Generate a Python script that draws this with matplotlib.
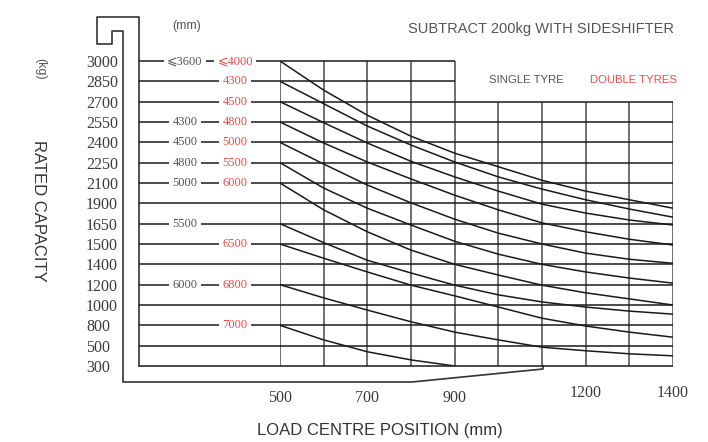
import numpy as np
import matplotlib
matplotlib.use('Agg')
import matplotlib.pyplot as plt

# rows of the chart (kg), top to bottom
caps = [3000, 2850, 2700, 2550, 2400, 2250, 2100, 1900, 1650, 1500, 1400, 1200, 1000, 800, 500, 300]
load_centre = [500, 600, 700, 800, 900, 1000, 1100, 1200, 1300, 1400]
xtick_vals = [500, 700, 900, 1200, 1400]

# mast heights (mm) written on the left, single / double tyres
single_tyre = {3000: '⩽3600', 2550: '4300', 2400: '4500', 2250: '4800', 2100: '5000',
               1650: '5500', 1200: '6000'}
double_tyre = {3000: '⩽4000', 2850: '4300', 2700: '4500', 2550: '4800', 2400: '5000',
               2250: '5500', 2100: '6000', 1500: '6500', 1200: '6800', 800: '7000'}

# capacity curves (kg) read at every 100 mm of load centre
curves = [
    [3000, 2785, 2600, 2445, 2320, 2220, 2120, 2020, 1935, 1840],
    [2850, 2685, 2520, 2380, 2255, 2145, 2040, 1935, 1830, 1730],
    [2700, 2545, 2395, 2260, 2145, 2020, 1890, 1780, 1695, 1640],
    [2550, 2395, 2255, 2130, 1980, 1820, 1660, 1590, 1535, 1495],
    [2400, 2240, 2080, 1905, 1705, 1580, 1500, 1455, 1425, 1405],
    [2250, 2050, 1840, 1640, 1520, 1450, 1400, 1325, 1265, 1215],
    [2100, 1820, 1590, 1470, 1400, 1295, 1195, 1120, 1060, 1000],
    [1650, 1510, 1420, 1315, 1195, 1100, 1030, 980, 940, 910],
    [1500, 1430, 1325, 1195, 1090, 980, 870, 790, 700, 625],
    [1200, 1070, 950, 835, 700, 585, 485, 450, 420, 400],
    [800, 585, 440, 360, 300],
]

GRAY = '#555555'
RED = '#f04a4a'
LINE = '#1a1a1a'
VGRID = '#707070'
NUMFONT = ['Liberation Serif', 'DejaVu Sans']
CAPFONT = ['Liberation Sans', 'DejaVu Sans']

caps_asc = caps[::-1]
rows = np.arange(len(caps_asc))


def fwd(v):
    return np.interp(v, caps_asc, rows)


def inv(p):
    return np.interp(p, rows, caps_asc)


fig = plt.figure(figsize=(7.08, 4.42), dpi=100)

# pixel-space layer for the frame and captions
deco = fig.add_axes([0, 0, 1, 1], zorder=0)
deco.set_xlim(0, 708)
deco.set_ylim(442, 0)
deco.axis('off')

ax = fig.add_axes([280 / 708, 76 / 442, 393 / 708, 305 / 442], zorder=1)
ax.patch.set_alpha(0)
ax.set_yscale('function', functions=(fwd, inv))
ax.set_xlim(500, 1400)
ax.set_ylim(300, 3000)
for s in ax.spines.values():
    s.set_visible(False)

left_x = 177  # where the row lines start, in mm

for c in caps:
    xend = 900 if c > 2700 else 1400
    ax.hlines(c, left_x, xend, colors=LINE, lw=1.1, clip_on=False, zorder=2)

for x in load_centre:
    ytop = 3000 if x <= 900 else 2700
    ax.vlines(x, 300, ytop, colors=VGRID, lw=1.4, zorder=1)

for vals in curves:
    ax.plot(load_centre[:len(vals)], vals, color=LINE, lw=1.1, zorder=3)

for c, t in single_tyre.items():
    ax.text(282, c, t, ha='center', va='center', color=GRAY, fontsize=9, family=NUMFONT,
            bbox=dict(fc='white', ec='none', pad=2.5), zorder=4, clip_on=False)
for c, t in double_tyre.items():
    ax.text(397, c, t, ha='center', va='center', color=RED, fontsize=9, family=NUMFONT,
            bbox=dict(fc='white', ec='none', pad=2.5), zorder=4, clip_on=False)

ax.set_yticks(caps)
ax.set_yticklabels([str(c) for c in caps], family=NUMFONT, fontsize=11.5, color='#3a3a3a')
ax.tick_params(axis='y', length=0, pad=(280 - 86) * 0.72)
for lbl in ax.get_yticklabels():
    lbl.set_ha('left')
ax.yaxis.set_minor_locator(matplotlib.ticker.NullLocator())

ax.set_xticks(xtick_vals)
ax.set_xticklabels([str(v) for v in xtick_vals], family=NUMFONT, fontsize=11.5,
                   color='#3a3a3a')
ax.tick_params(axis='x', length=0, pad=17)
for t in ax.xaxis.get_major_ticks()[3:]:
    t.set_pad(14)

# frame outline
deco.plot([139, 139, 97, 97, 112, 112, 123, 123, 412, 543, 543],
          [366, 17, 17, 44, 44, 31, 31, 382, 382, 369, 366], color='#333333', lw=1.2)

deco.text(674, 29, 'SUBTRACT 200kg WITH SIDESHIFTER', ha='right', va='center',
          color=GRAY, fontsize=10.5, family=CAPFONT)
deco.text(187, 26, '(mm)', ha='center', va='center', color=GRAY, fontsize=9, family=CAPFONT)
deco.text(40, 69, '(kg)', ha='center', va='center', rotation=-90, color=GRAY,
          fontsize=9, family=CAPFONT)
deco.text(38, 211, 'RATED CAPACITY', ha='center', va='center', rotation=-90,
          color='#333333', fontsize=12, family=CAPFONT)
deco.text(380, 431, 'LOAD CENTRE POSITION (mm)', ha='center', va='center',
          color='#333333', fontsize=12, family=CAPFONT)
deco.text(526, 80, 'SINGLE TYRE', ha='center', va='center', color=GRAY, fontsize=8.2,
          family=CAPFONT)
deco.text(633, 80, 'DOUBLE TYRES', ha='center', va='center', color=RED, fontsize=8.2,
          family=CAPFONT)

fig.savefig('out.png', dpi=100)
